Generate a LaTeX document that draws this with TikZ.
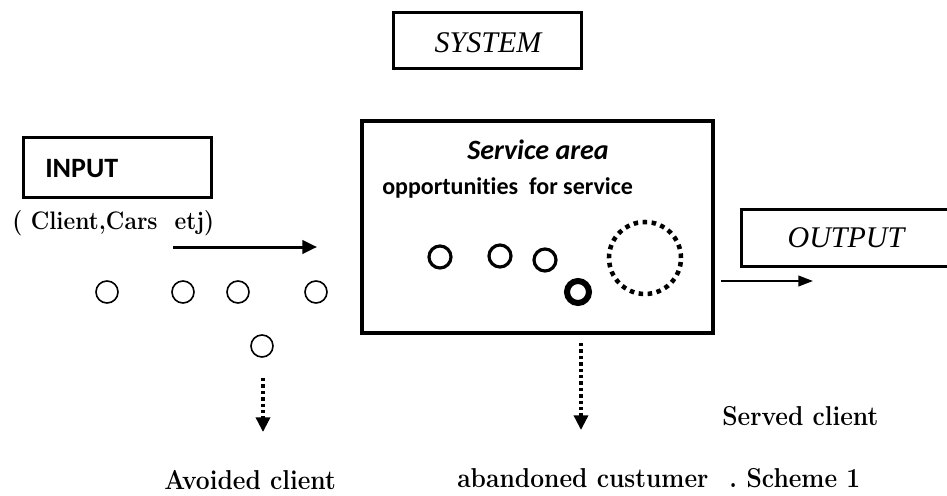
\documentclass[tikz,border=0pt]{standalone}
\usepackage{graphicx}
\usepackage{fontspec}
\newfontfamily\carl[Ligatures=NoCommon]{Carlito}
\newfontfamily\tnr{Liberation Serif}
\usetikzlibrary{arrows.meta}
\newcommand{\cond}[1]{\scalebox{0.9}[1]{#1}}
\tikzset{
  boxthin/.style={draw, line width=2.25pt, rectangle, inner sep=0pt},
  boxthick/.style={draw, line width=3pt, rectangle, inner sep=0pt},
  txt/.style={inner sep=0pt, anchor=base west},
  lmtext/.style={txt, font=\bfseries\fontsize{20.5pt}{24pt}\selectfont},
  client/.style={draw, circle, line width=1.2pt, minimum size=16.5pt, inner sep=0pt},
  svc/.style={draw, circle, line width=2.4pt, minimum size=16.5pt, inner sep=0pt},
  svcbold/.style={draw, circle, line width=4.5pt, minimum size=16.5pt, inner sep=0pt},
  server/.style={draw, circle, line width=3.4pt, dash pattern=on 3.4pt off 3.4pt, minimum size=54pt, inner sep=0pt},
  flowarrow/.style={line width=2.25pt, -{Triangle[length=11pt,width=10pt]}},
  outarrow/.style={line width=1.4pt, -{Triangle[length=11pt,width=8pt]}},
  lostarrow/.style={line width=2.6pt, dash pattern=on 2.6pt off 2.2pt, -{Triangle[length=11pt,width=10.5pt]}},
}
\begin{document}
\begin{tikzpicture}[x=0.75pt, y=-0.75pt]
\useasboundingbox (0,0) rectangle (947,496);
\clip (0,0) rectangle (947,496);
% SYSTEM
\node[boxthin, minimum width=141pt, minimum height=42pt] (sys) at (487,40) {};
\node[inner sep=0pt, anchor=base, font=\tnr\itshape\fontsize{22.5pt}{26pt}\selectfont] (systxt) at (488,52) {SYSTEM};
% INPUT
\node[boxthin, minimum width=141pt, minimum height=45pt] (inp) at (117,167) {};
\node[txt, font=\carl\bfseries\fontsize{21pt}{25pt}\selectfont] (inptxt) at (45,177) {INPUT};
\node[txt, font=\bfseries\fontsize{19pt}{23pt}\selectfont] (clients) at (12,229) {\cond{( Client,Cars\ \ etj)}};
% input arrow
\coordinate (inS) at (173,247);
\coordinate (inE) at (317,247);
\draw[flowarrow] (inS) -- (inE);
% waiting clients
\node[client] (c1) at (107,292) {};
\node[client] (c2) at (183,292) {};
\node[client] (c3) at (238,292) {};
\node[client] (c4) at (316,292) {};
\node[client] (c5) at (262,346) {};
% avoided arrow
\coordinate (avS) at (263,378);
\coordinate (avE) at (263,432);
\draw[lostarrow] (avS) -- (avE);
% service area
\node[boxthick, minimum width=263.25pt, minimum height=159pt] (area) at (537.5,227) {};
\node[inner sep=0pt, anchor=base, font=\carl\bfseries\itshape\fontsize{21pt}{25pt}\selectfont] (areatxt) at (538,159) {Service area};
\node[txt, font=\carl\bfseries\fontsize{18pt}{22pt}\selectfont] (opp) at (382,194) {opportunities\ \ for service};
\node[svc] (s1) at (440,257) {};
\node[svc] (s2) at (500,256) {};
\node[svc] (s3) at (545,260) {};
\node[svcbold] (s4) at (578,292) {};
\node[server] (srv) at (645,258) {};
% abandoned arrow
\coordinate (abS) at (581,343);
\coordinate (abE) at (581,430);
\draw[lostarrow] (abS) -- (abE);
% OUTPUT
\node[boxthin, minimum width=171.75pt, minimum height=42.75pt] (out) at (855.5,237.5) {};
\node[inner sep=0pt, anchor=base, font=\tnr\itshape\fontsize{22.5pt}{26pt}\selectfont] (outtxt) at (846,247) {OUTPUT};
\coordinate (oS) at (721,281);
\coordinate (oE) at (813,281);
\draw[outarrow] (oS) -- (oE);
% labels
\node[lmtext] (served) at (722,425) {\cond{Served client}};
\node[lmtext] (avoided) at (164,489) {\cond{Avoided client}};
\node[lmtext] (aband) at (457,487) {\cond{abandoned custumer}};
\node[lmtext] (scheme) at (729,487) {\cond{.\hspace{8pt}Scheme 1}};
\end{tikzpicture}
\end{document}
